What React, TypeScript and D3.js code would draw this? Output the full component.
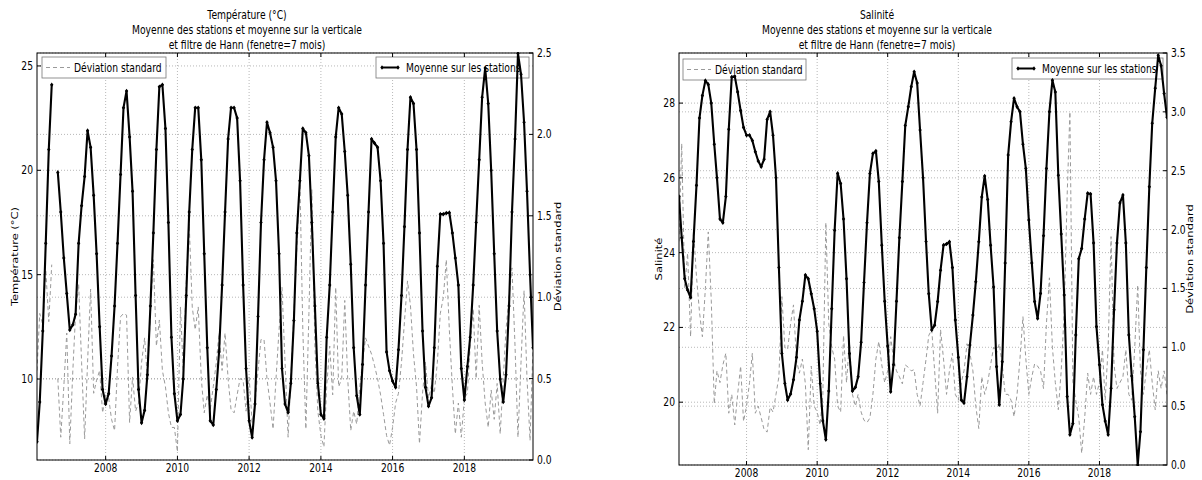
import React from 'react';
import * as d3 from 'd3';

// monthly values, Feb 2006 .. Dec 2019 (167 months)
const months: Date[] = d3.timeMonth.range(new Date(2006, 1, 1), new Date(2020, 0, 1));
const yearTicks = [2008, 2010, 2012, 2014, 2016, 2018];

// Température moyenne (°C), null = pas de donnée
const tempMean: (number | null)[] = [
  7.0, 8.9, 12.3, 16.5, 21.0, 24.1, null, 19.9, 18.0, 15.8,
  14.1, 12.35, 12.6, 13.1, 16.5, 18.3, 19.7, 21.9, 21.1, 18.8,
  16.0, 12.5, 9.5, 8.8, 9.3, 11.1, 13.5, 16.5, 19.8, 23.0,
  23.8, 21.6, 19.0, 14.0, 9.5, 7.9, 8.5, 10.2, 13.5, 17.0,
  21.0, 24.0, 24.1, 22.0, 17.5, 12.0, 9.3, 8.0, 8.3, 10.0,
  14.0, 18.0, 21.0, 23.0, 23.0, 20.5, 16.0, 11.5, 8.0, 7.8,
  9.5, 11.3, 14.5, 18.0, 21.5, 23.0, 23.0, 22.5, 19.5, 14.5,
  10.5, 8.0, 7.2, 8.8, 13.0, 17.5, 20.5, 22.3, 21.8, 21.1,
  19.5, 16.0, 10.5, 8.8, 8.4, 9.8, 12.8, 17.0, 19.5, 22.0,
  21.8, 20.7, 17.5, 13.5, 9.8, 8.3, 8.1, 12.0, 14.5, 18.0,
  21.6, 23.0, 22.7, 20.9, 18.8, 15.5, 11.5, 9.2, 8.3, 10.7,
  14.5, 18.0, 21.5, 21.3, 21.1, 19.5, 16.5, 11.3, 10.4, 9.9,
  9.6, 11.4, 14.0, 17.3, 21.0, 23.5, 23.2, 21.0, 17.0, 12.3,
  9.6, 8.7, 9.1, 11.5, 15.4, 17.9, 17.9, 17.95, 17.97, 17.0,
  15.8, 14.5, 10.5, 9.0, 10.6, 12.0, 14.5, 17.5, 20.5, 23.5,
  24.9, 23.2, 20.0, 16.0, 12.3, 10.0, 8.9, 10.2, 13.5, 18.0,
  21.5, 25.6, 24.6, 22.3, 19.0, 15.0, 11.5,
];

// Déviation standard de la température
const tempStd: (number | null)[] = [
  0.55, 0.9, 0.83, 1.17, 0.85, 1.2, null, 0.5, 0.14, 0.45,
  0.78, 0.1, 0.55, 0.9, 1.08, 0.6, 0.13, 0.6, 1.05, 0.41,
  0.49, 0.55, 0.29, 0.4, 0.38, 0.25, 0.18, 0.57, 0.88, 0.9,
  0.89, 0.23, 0.51, 0.3, 0.35, 0.6, 0.75, 0.5, 0.9, 1.23,
  0.7, 0.86, 0.55, 0.45, 0.29, 0.2, 0.2, 0.05, 0.94, 0.55,
  1.1, 1.45, 0.94, 0.8, 0.94, 0.5, 0.29, 0.4, 0.31, 0.45,
  0.6, 0.78, 0.55, 0.78, 0.5, 0.31, 0.29, 0.4, 0.5, 0.49,
  0.3, 0.51, 0.23, 0.35, 0.55, 0.74, 0.74, 0.5, 0.35, 0.19,
  0.5, 0.8, 1.06, 0.6, 0.14, 0.5, 0.9, 1.3, 1.72, 0.8,
  0.19, 0.9, 1.66, 0.7, 0.3, 0.15, 0.08, 0.45, 0.7, 0.4,
  1.06, 0.45, 0.5, 0.98, 0.5, 0.18, 0.3, 0.22, 0.45, 0.6,
  0.75, 0.7, 0.65, 0.58, 0.5, 0.4, 0.28, 0.15, 0.09, 0.2,
  0.35, 0.41, 0.6, 0.85, 1.1, 0.95, 0.65, 0.45, 0.1, 0.41,
  0.6, 0.38, 0.46, 0.41, 0.6, 0.9, 1.0, 1.23, 0.8, 0.45,
  0.16, 0.35, 0.14, 0.38, 0.41, 0.7, 0.93, 0.5, 0.95, 0.6,
  0.35, 0.2, 0.43, 0.25, 0.47, 0.16, 0.5, 0.8, 1.0, 1.18,
  0.7, 0.14, 0.6, 1.04, 0.5, 0.12, 0.7,
];

// Salinité moyenne
const salMean: (number | null)[] = [
  25.5, 24.4, 23.3, 23.0, 22.8, 24.3, 25.8, 27.6, 28.2, 28.6,
  28.5, 28.0, 26.9, 26.0, 24.9, 24.8, 25.5, 27.3, 28.7, 28.72,
  28.3, 27.8, 27.35, 27.14, 27.14, 27.0, 26.7, 26.45, 26.3, 26.5,
  27.56, 27.77, 27.14, 26.0, 23.6, 21.3, 20.5, 20.06, 20.22, 20.6,
  21.2, 22.2, 22.7, 23.4, 23.3, 22.9, 22.5, 21.9, 20.5, 19.5,
  19.0, 20.3, 22.5, 24.6, 26.12, 25.85, 24.9, 23.3, 21.3, 20.3,
  20.4, 20.68, 21.6, 23.2, 24.8, 26.12, 26.65, 26.72, 25.9, 24.2,
  22.7, 21.5, 20.28, 21.0, 22.7, 24.4, 25.9, 27.4, 27.9, 28.44,
  28.84, 28.54, 27.28, 26.0, 24.3, 22.9, 21.93, 22.06, 22.69, 23.53,
  24.2, 24.23, 24.29, 23.6, 22.2, 21.2, 20.06, 19.98, 20.68, 21.53,
  22.33, 23.22, 24.29, 25.49, 26.05, 25.42, 24.2, 23.08, 20.95, 19.93,
  21.08, 23.72, 26.61, 27.5, 28.13, 27.9, 27.77, 26.9, 26.25, 24.87,
  23.72, 22.69, 22.24, 22.91, 24.45, 26.25, 27.77, 28.61, 28.3, 26.07,
  24.5, 22.87, 20.15, 19.13, 19.43, 21.8, 23.84, 24.11, 24.9, 25.59,
  25.57, 24.26, 22.02, 21.0, 19.93, 19.5, 19.13, 20.37, 22.47, 24.26,
  25.33, 25.54, 24.26, 21.8, 20.7, 19.61, 18.32, 19.21, 21.4, 23.6,
  25.76, 27.46, 28.4, 29.28, 29.0, 28.26, 27.62,
];

// Déviation standard de la salinité
const salStd: (number | null)[] = [
  1.9, 2.73, 1.5, 1.8, 1.09, 2.0, 1.6, 1.3, 1.09, 1.5,
  1.98, 1.4, 0.52, 0.8, 0.7, 0.85, 0.95, 0.44, 0.6, 0.34,
  0.6, 0.84, 0.37, 0.5, 0.7, 0.95, 0.44, 0.5, 0.4, 0.3,
  0.28, 0.49, 0.45, 0.6, 0.75, 1.43, 1.0, 0.98, 1.2, 1.36,
  0.89, 0.78, 0.9, 0.69, 0.13, 0.84, 0.5, 0.45, 0.34, 0.6,
  2.06, 1.2, 1.0, 0.9, 0.5, 0.45, 1.1, 0.7, 1.05, 0.6,
  0.5, 0.6, 0.45, 0.38, 0.36, 0.4, 0.6, 0.9, 1.05, 0.85,
  0.7, 0.8, 1.09, 0.9, 0.8, 0.75, 0.69, 0.85, 0.83, 0.8,
  0.81, 0.6, 0.5, 0.7, 0.9, 1.1, 1.15, 0.8, 0.44, 1.15,
  0.9, 0.6, 0.8, 0.95, 0.6, 0.55, 0.7, 0.8, 1.03, 0.95,
  0.8, 0.5, 0.31, 0.75, 0.6, 0.7, 0.85, 1.0, 0.95, 1.03,
  0.85, 0.6, 0.6, 0.55, 0.41, 0.6, 0.9, 1.26, 0.9, 0.6,
  0.75, 0.86, 0.84, 0.8, 0.65, 1.2, 1.59, 1.0, 0.7, 0.47,
  0.8, 1.3, 2.3, 3.0, 0.7, 0.55, 0.4, 0.1, 0.4, 0.78,
  0.6, 0.75, 0.6, 0.7, 0.98, 0.55, 1.0, 1.94, 0.85, 0.65,
  0.7, 0.75, 0.98, 0.6, 0.55, 1.0, 1.53, 0.8, 0.6, 0.8,
  0.98, 0.7, 0.47, 0.8, 0.65, 0.8, 0.6,
];

const tempTicks = [10, 15, 20, 25];
const salTicks = [20, 22, 24, 26, 28];
const stdTicksT = [0, 0.5, 1.0, 1.5, 2.0, 2.5];
const stdTicksS = [0, 0.5, 1.0, 1.5, 2.0, 2.5, 3.0, 3.5];

const FONT = 'DejaVu Sans';
const SX = 0.8; // la figure d'origine est comprimée horizontalement
const STD_COLOR = '#9a9a9a';

function Txt({ x, y, anchor = 'middle', size = 11.5, rot = false, children }: any) {
  const tr = rot
    ? `translate(${x},${y}) rotate(-90) scale(1,${SX})`
    : `translate(${x},${y}) scale(${SX},1)`;
  return (
    <text transform={tr} textAnchor={anchor} fontSize={size} fontFamily={FONT} fill="#000">
      {children}
    </text>
  );
}

function diamond(x: number, y: number) {
  return `M${x},${y - 2.3}L${x + 1.7},${y}L${x},${y + 2.3}L${x - 1.7},${y}Z`;
}

function Panel(props: any) {
  const { id, left, right, top, bottom, titleX, title, yLabel, mean, std, yDomain, yTicks, y2Max, y2Ticks,
    leg1, leg2, yLabelX, y2LabelX, xLabY } = props;
  const x = d3.scaleTime().domain([months[0], months[months.length - 1]]).range([left, right]);
  const y = d3.scaleLinear().domain(yDomain).range([bottom, top]);
  const y2 = d3.scaleLinear().domain([0, y2Max]).range([bottom, top]);
  const years = yearTicks.map((yr) => new Date(yr, 0, 1));

  const lineMean = d3.line<number | null>()
    .defined((d) => d != null)
    .x((_, i) => x(months[i]))
    .y((d) => y(d as number));
  const lineStd = d3.line<number | null>()
    .defined((d) => d != null)
    .x((_, i) => x(months[i]))
    .y((d) => y2(d as number));

  const grid = { stroke: '#9a9a9a', strokeWidth: 0.7, strokeDasharray: '1,2' };
  const midY = (top + bottom) / 2;

  return (
    <g>
      <defs>
        <clipPath id={id}>
          <rect x={left} y={top - 1} width={right - left} height={bottom - top + 2} />
        </clipPath>
      </defs>
      {/* grille */}
      {years.map((d, i) => (
        <line key={'gx' + i} x1={x(d)} x2={x(d)} y1={top} y2={bottom} {...grid} />
      ))}
      {yTicks.map((t: number) => (
        <line key={'gy' + t} x1={left} x2={right} y1={y(t)} y2={y(t)} {...grid} />
      ))}
      {y2Ticks.map((t: number) => (
        <line key={'gy2' + t} x1={left} x2={right} y1={y2(t)} y2={y2(t)} {...grid} />
      ))}

      {/* déviation standard */}
      <path d={lineStd(std) || ''} fill="none" stroke={STD_COLOR} strokeWidth={1} strokeDasharray="4,3"
        clipPath={`url(#${id})`} />

      {/* légendes */}
      <rect x={leg1.x} y={leg1.y} width={leg1.w} height={21} fill="#fff" stroke="#777" strokeWidth={0.8} />
      <line x1={leg1.x + 4} x2={leg1.x + 28} y1={leg1.y + 10.5} y2={leg1.y + 10.5} stroke={STD_COLOR}
        strokeWidth={1} strokeDasharray="4,3" />
      <Txt x={leg1.x + 32} y={leg1.y + 14.5} anchor="start">Déviation standard</Txt>

      <rect x={leg2.x} y={leg2.y} width={leg2.w} height={21} fill="#fff" stroke="#777" strokeWidth={0.8} />
      <line x1={leg2.x + 6} x2={leg2.x + 22} y1={leg2.y + 10.5} y2={leg2.y + 10.5} stroke="#000" strokeWidth={2} />
      <path d={diamond(leg2.x + 6, leg2.y + 10.5) + diamond(leg2.x + 22, leg2.y + 10.5)} fill="#000" />
      <Txt x={leg2.x + 30} y={leg2.y + 14.5} anchor="start">Moyenne sur les stations</Txt>

      {/* moyenne */}
      <g clipPath={`url(#${id})`}>
        <path d={lineMean(mean) || ''} fill="none" stroke="#000" strokeWidth={2.1} strokeLinejoin="round" />
        <path
          d={mean.map((v: number | null, i: number) => (v == null ? '' : diamond(x(months[i]), y(v)))).join('')}
          fill="#000"
        />
      </g>

      {/* cadre */}
      <rect x={left} y={top} width={right - left} height={bottom - top} fill="none" stroke="#000" strokeWidth={1} />

      {/* graduations */}
      {years.map((d, i) => (
        <g key={'tx' + i}>
          <line x1={x(d)} x2={x(d)} y1={bottom} y2={bottom - 4} stroke="#000" />
          <line x1={x(d)} x2={x(d)} y1={top} y2={top + 4} stroke="#000" />
          <Txt x={x(d)} y={xLabY}>{String(yearTicks[i])}</Txt>
        </g>
      ))}
      {yTicks.map((t: number) => (
        <g key={'ty' + t}>
          <line x1={left} x2={left + 4} y1={y(t)} y2={y(t)} stroke="#000" />
          <Txt x={left - 4} y={y(t) + 4} anchor="end">{String(t)}</Txt>
        </g>
      ))}
      {y2Ticks.map((t: number) => (
        <g key={'ty2' + t}>
          <line x1={right} x2={right - 4} y1={y2(t)} y2={y2(t)} stroke="#000" />
          <Txt x={right + 4} y={y2(t) + 4} anchor="start">{t.toFixed(1)}</Txt>
        </g>
      ))}

      {/* titres */}
      <Txt x={titleX} y={19}>{title}</Txt>
      <Txt x={titleX} y={34}>Moyenne des stations et moyenne sur la verticale</Txt>
      <Txt x={titleX} y={49}>et filtre de Hann (fenetre=7 mois)</Txt>
      <Txt x={yLabelX} y={midY} rot>{yLabel}</Txt>
      <Txt x={y2LabelX} y={midY} rot>Déviation standard</Txt>
    </g>
  );
}

export default function App() {
  return (
    <svg width={1202} height={480} style={{ display: 'block', position: 'absolute', left: 0, top: 0, background: '#fff' }}>
      <rect width={1202} height={480} fill="#fff" />
      <Panel
        id="clipT" left={37} right={533} top={53} bottom={460} titleX={247}
        title="Température (°C)" yLabel="Température (°C)"
        mean={tempMean} std={tempStd} yDomain={[6.12, 25.62]} yTicks={tempTicks}
        y2Max={2.5} y2Ticks={stdTicksT}
        leg1={{ x: 42, y: 57, w: 124 }} leg2={{ x: 376, y: 57, w: 153 }}
        yLabelX={18} y2LabelX={561} xLabY={472}
      />
      <Panel
        id="clipS" left={679} right={1167} top={53} bottom={465} titleX={877}
        title="Salinité" yLabel="Salinité"
        mean={salMean} std={salStd} yDomain={[18.32, 29.34]} yTicks={salTicks}
        y2Max={3.5} y2Ticks={stdTicksS}
        leg1={{ x: 683, y: 59, w: 123 }} leg2={{ x: 1012, y: 58, w: 151 }}
        yLabelX={662} y2LabelX={1193} xLabY={477}
      />
    </svg>
  );
}
